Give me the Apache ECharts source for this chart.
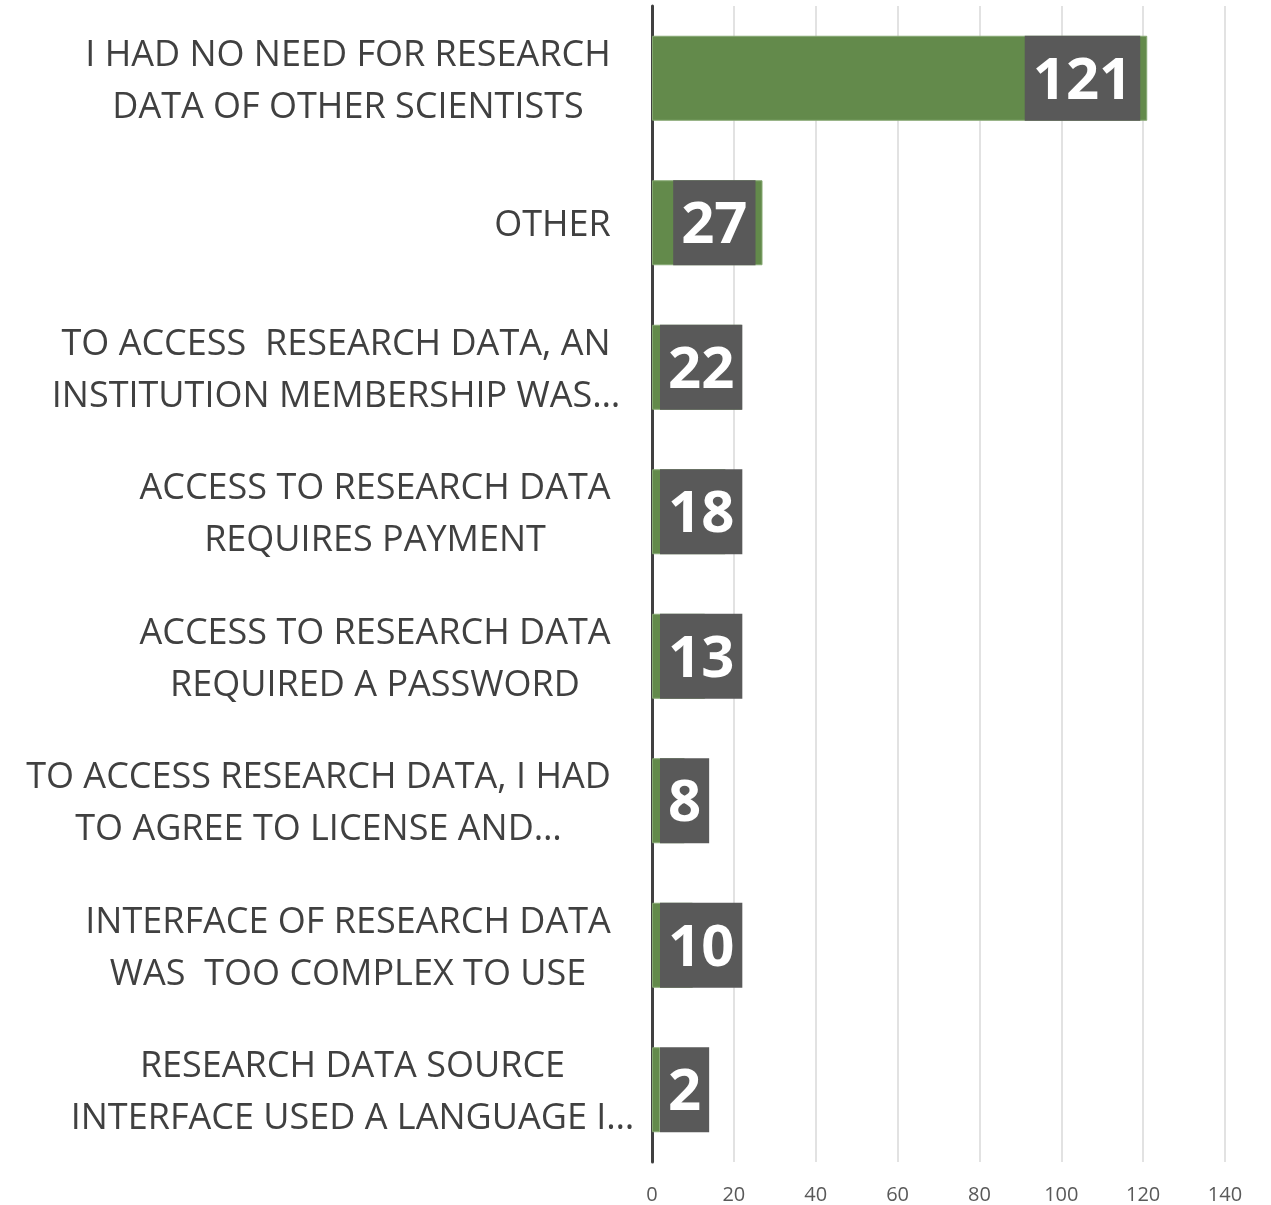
<!DOCTYPE html>
<html>
<head>
<meta charset="utf-8">
<script src="https://cdn.jsdelivr.net/npm/echarts@6/dist/echarts.min.js"></script>
<style>
  html, body { margin: 0; padding: 0; background: #fff; }
  #chart { width: 1271px; height: 1205px; }
</style>
</head>
<body>
<div id="chart"></div>
<script>
// categories, top to bottom
const categories = [
  'I HAD NO NEED FOR RESEARCH\nDATA OF OTHER SCIENTISTS',
  'OTHER',
  'TO ACCESS  RESEARCH DATA, AN\nINSTITUTION MEMBERSHIP WAS…',
  'ACCESS TO RESEARCH DATA\nREQUIRES PAYMENT',
  'ACCESS TO RESEARCH DATA\nREQUIRED A PASSWORD',
  'TO ACCESS RESEARCH DATA, I HAD\nTO AGREE TO LICENSE AND…',
  'INTERFACE OF RESEARCH DATA\nWAS  TOO COMPLEX TO USE',
  'RESEARCH DATA SOURCE\nINTERFACE USED A LANGUAGE I…'
];
const counts = [121, 27, 22, 18, 13, 8, 10, 2];
const xTicks = { min: 0, max: 140, interval: 20 };

const FONT = '"Open Sans", "Noto Sans", sans-serif';
const CAT_SIZE = 36;

// lines are centred in a right-aligned block; truncated lines ("…") are
// measured without their last word, so they spill over like Excel does
const ctx = document.createElement('canvas').getContext('2d');
ctx.font = CAT_SIZE + 'px ' + FONT;
const lineWidth = (l) => {
  if (l.endsWith('…') && l.lastIndexOf(' ') > 0) l = l.slice(0, l.lastIndexOf(' '));
  return ctx.measureText(l).width;
};
const rich = {};
categories.forEach((c, i) => {
  rich['l' + i] = {
    width: Math.ceil(Math.max(...c.split('\n').map(lineWidth))),
    align: 'center',
    fontFamily: FONT,
    fontSize: CAT_SIZE,
    lineHeight: 52,
    color: '#404040',
  };
});

const chart = echarts.init(document.getElementById('chart'), null, { renderer: 'canvas' });

const option = {
  animation: false,
  grid: { left: 652, right: 46, top: 6, bottom: 42 },
  xAxis: {
    type: 'value',
    min: xTicks.min,
    max: xTicks.max,
    interval: xTicks.interval,
    axisLine: { show: false },
    axisTick: { show: false },
    axisLabel: {
      color: '#595959',
      fontFamily: FONT,
      fontSize: 20,
      margin: 23,
    },
    splitLine: { lineStyle: { color: '#d9d9d9', width: 1.5 } },
  },
  yAxis: {
    type: 'category',
    inverse: true,
    data: categories,
    axisLine: { lineStyle: { color: '#404040', width: 3 } },
    axisTick: { show: false },
    axisLabel: {
      margin: 41,
      align: 'right',
      padding: [6, 0, 0, 0],
      rich,
      formatter: (value, idx) =>
        value.split('\n').map((l) => `{l${idx}|${l}}`).join('\n'),
    },
  },
  series: [
    {
      type: 'bar',
      barWidth: 85,
      itemStyle: { color: '#638a4b', borderColor: '#86a873', borderWidth: 1 },
      label: {
        show: true,
        formatter: '{v|{c}}',
        backgroundColor: '#595959',
        padding: [0, 8],
        distance: 7,
        rich: {
          v: {
            color: '#ffffff',
            fontFamily: FONT,
            fontWeight: 'bold',
            fontSize: 58,
            lineHeight: 85,
            padding: [8, 0, 0, 0],
          },
        },
      },
      data: counts.map((v) => ({
        value: v,
        label: v >= 25
          ? { position: 'insideRight' }
          : { position: [8, '50%'], align: 'left', verticalAlign: 'middle' },
      })),
    },
  ],
};

chart.setOption(option);
</script>
</body>
</html>
